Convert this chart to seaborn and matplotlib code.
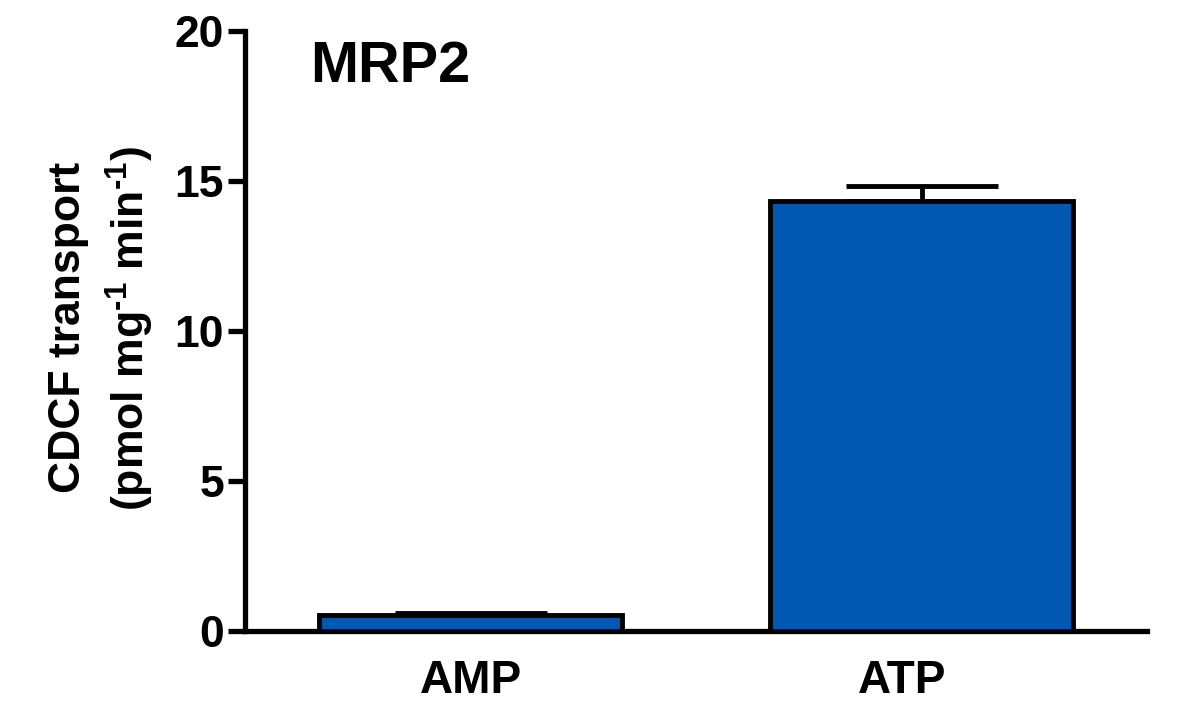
"""MRP2 CDCF transport bar chart."""

import matplotlib

matplotlib.use("Agg")
import matplotlib.pyplot as plt
import seaborn as sns

conditions = ["AMP", "ATP"]
transport = [0.52, 14.33]
sem = [0.07, 0.50]
y_ticks = [0, 5, 10, 15, 20]

BAR_COLOR = "#0058B3"
LW = 3.5

sns.set_style("ticks")
plt.rcParams["font.family"] = ["Liberation Sans", "DejaVu Sans"]
plt.rcParams["font.weight"] = "bold"
plt.rcParams["text.color"] = "black"
plt.rcParams["axes.edgecolor"] = "black"
plt.rcParams["xtick.color"] = "black"
plt.rcParams["ytick.color"] = "black"
plt.rcParams["mathtext.fontset"] = "custom"
plt.rcParams["mathtext.rm"] = "Liberation Sans:bold"
plt.rcParams["mathtext.bf"] = "Liberation Sans:bold"
plt.rcParams["mathtext.default"] = "bf"

fig = plt.figure(figsize=(11.82, 7.10), dpi=100)
ax = fig.add_axes([0.2073, 0.1113, 0.7631, 0.8450])

sns.barplot(
    x=conditions,
    y=transport,
    color=BAR_COLOR,
    saturation=1,
    width=0.671,
    edgecolor="black",
    linewidth=LW,
    ax=ax,
    zorder=3,
)
ax.errorbar(
    range(len(conditions)),
    transport,
    yerr=[[0] * len(sem), sem],
    fmt="none",
    ecolor="black",
    elinewidth=LW,
    capsize=55,
    capthick=LW,
    zorder=2,
)

ax.set_xlim(-0.5, 1.5)
ax.set_ylim(0, 20)
ax.set_yticks(y_ticks)
ax.set_yticklabels([str(t) for t in y_ticks])
# the ATP label sits a little left of its bar centre in the original
ax.set_xticks([0, 0.958], conditions)
sns.despine(ax=ax)
for side in ("left", "bottom"):
    ax.spines[side].set_linewidth(3.8)
ax.tick_params(axis="y", length=12, width=3.8, pad=3, labelsize=32)
ax.tick_params(axis="x", length=0, pad=20, labelsize=33)
ax.set_xlabel("")
ax.set_ylabel("")

ax.text(0.072, 0.985, "MRP2", transform=ax.transAxes, fontsize=41.5,
        fontweight="bold", ha="left", va="top")

fig.text(80 / 1182, 1 - 327 / 710, "CDCF transport", rotation=90,
         rotation_mode="anchor", fontsize=32, fontweight="bold",
         ha="center", va="baseline")
fig.text(145 / 1182, 1 - 329 / 710, r"(pmol mg$^{\text{-}1}$ min$^{\text{-}1}$)",
         rotation=90, rotation_mode="anchor", fontsize=32, fontweight="bold",
         ha="center", va="baseline")

fig.savefig("out.png", dpi=100)
plt.close(fig)
